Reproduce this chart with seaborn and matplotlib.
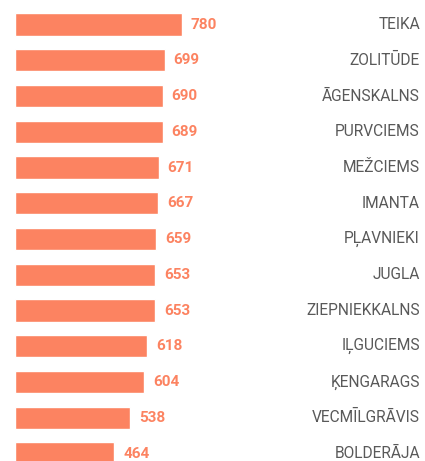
import matplotlib
matplotlib.use("Agg")
import matplotlib.pyplot as plt
import matplotlib.transforms as mtransforms
import seaborn as sns
import pandas as pd

districts = ["TEIKA", "ZOLITŪDE", "ĀGENSKALNS", "PURVCIEMS", "MEŽCIEMS", "IMANTA",
             "PĻAVNIEKI", "JUGLA", "ZIEPNIEKKALNS", "IĻGUCIEMS", "ĶENGARAGS",
             "VECMĪLGRĀVIS", "BOLDERĀJA"]
values = [780, 699, 690, 689, 671, 667, 659, 653, 653, 618, 604, 538, 464]

sns.set_theme(style="white")
plt.rcParams['font.family'] = ['Roboto', 'DejaVu Sans']

W, H = 425, 461
fig = plt.figure(figsize=(W / 100, H / 100), dpi=100)
left_px, right_px = 15, 420
ax = fig.add_axes([left_px / W, 0, (right_px - left_px) / W, 1])

df = pd.DataFrame({"district": districts, "value": values})
color = "#FC8361"
sns.barplot(data=df, y="district", x="value", orient="h", color=color,
            saturation=1, width=0.62, ax=ax)

scale = (182 - 15) / 780.0
ax.set_xlim(0, (right_px - left_px) / scale)
pitch = 35.75
top_center = 24.5
ax.set_ylim((H - top_center) / pitch, -top_center / pitch)

blend = mtransforms.blended_transform_factory(ax.transAxes, ax.transData)
for i, (d, v) in enumerate(zip(districts, values)):
    ax.text(v + 9 / scale, i, str(v), ha="left", va="center", color=color,
            fontsize=11, fontweight="bold")
    ax.text(1.0, i, d, ha="right", va="center", color="#595959",
            fontsize=11.2, transform=blend)

ax.set_axis_off()
fig.savefig("out.png", dpi=100)
